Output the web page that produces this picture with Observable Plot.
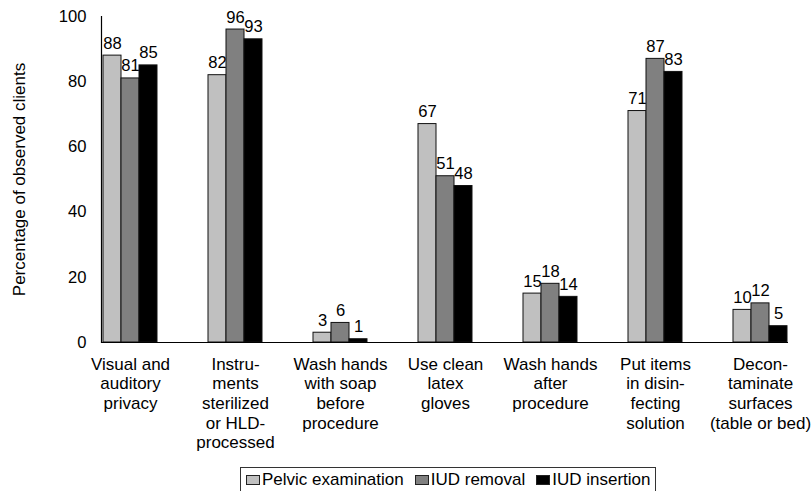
<!DOCTYPE html>
<html>
<head>
<meta charset="utf-8">
<script src="https://cdn.jsdelivr.net/npm/d3@7"></script>
<script src="https://cdn.jsdelivr.net/npm/@observablehq/plot@0.6"></script>
<style>
  html, body { margin: 0; padding: 0; background: #fff; }
  body { width: 812px; height: 491px; overflow: hidden; font-family: "Liberation Sans", Arial, sans-serif; }
  #legend { position: relative; margin-top: 7px; margin-left: 240px; width: 416px; height: 26px;
            border: 1px solid #333; box-sizing: border-box; display: flex; align-items: center;
            padding-left: 5px; font-size: 17px; color: #000; white-space: nowrap; }
  .item { display: flex; align-items: center; margin-right: 11px; }
  .sw { width: 14px; height: 10px; border: 1px solid #222; box-sizing: border-box; margin-right: 2px; }
</style>
</head>
<body>
<div id="chart"></div>
<div id="legend"></div>
<script>
const categories = [
  "Visual and auditory privacy",
  "Instruments sterilized or HLD-processed",
  "Wash hands with soap before procedure",
  "Use clean latex gloves",
  "Wash hands after procedure",
  "Put items in disinfecting solution",
  "Decontaminate surfaces (table or bed)"
];
const tickLabels = [
  "Visual and\nauditory\nprivacy",
  "Instru-\nments\nsterilized\nor HLD-\nprocessed",
  "Wash hands\nwith soap\nbefore\nprocedure",
  "Use clean\nlatex\ngloves",
  "Wash hands\nafter\nprocedure",
  "Put items\nin disin-\nfecting\nsolution",
  "Decon-\ntaminate\nsurfaces\n(table or bed)"
];
const seriesNames = ["Pelvic examination", "IUD removal", "IUD insertion"];
const pelvicExamination = [88, 82, 3, 67, 15, 71, 10];
const iudRemoval = [81, 96, 6, 51, 18, 87, 12];
const iudInsertion = [85, 93, 1, 48, 14, 83, 5];
const yTicks = [0, 20, 40, 60, 80, 100];
const yTitle = "Percentage of observed clients";
const colors = ["#c0c0c0", "#808080", "#000000"];

const seriesValues = [pelvicExamination, iudRemoval, iudInsertion];
const labelOf = new Map(categories.map((c, i) => [c, tickLabels[i]]));

const marks = [];
seriesValues.forEach((vals, k) => {
  const rows = categories.map((c, i) => ({category: c, series: seriesNames[k], value: vals[i]}));
  const dx = (k - 1) * 18;
  marks.push(Plot.barY(rows, {x: "category", y: "value", fill: "series", stroke: "#111", strokeWidth: 1, dx, insetLeft: 0, insetRight: 0}));
  marks.push(Plot.text(rows, {x: "category", y: "value", text: d => String(d.value), dx, dy: -7, lineAnchor: "bottom", fontSize: 16.6, fill: "#000"}));
});

const chart = Plot.plot({
  width: 812,
  height: 460,
  marginLeft: 101,
  marginRight: 24,
  marginTop: 16,
  marginBottom: 118,
  style: {fontFamily: '"Liberation Sans", Arial, sans-serif', fontSize: "17px", color: "#000", background: "#fff", overflow: "visible"},
  x: {type: "band", domain: categories, range: [75, 814], paddingInner: 0.8295, paddingOuter: 0.4148, axis: null},
  y: {domain: [0, 100], axis: null},
  color: {domain: seriesNames, range: colors},
  marks: [
    ...marks,
    Plot.ruleY([0], {stroke: "#000", strokeWidth: 1.2}),
    Plot.frame({anchor: "left", stroke: "#000", strokeWidth: 1.2}),
    Plot.axisY({ticks: yTicks, tickSize: 0, tickPadding: 15, fontSize: 16.6, label: null}),
    Plot.text(categories, {x: d => d, frameAnchor: "bottom", text: d => labelOf.get(d), lineAnchor: "top", dy: 13, lineHeight: 1.16, fontSize: 17, fill: "#000"}),
    Plot.text([yTitle], {frameAnchor: "left", text: d => d, rotate: -90, dx: -82, textAnchor: "middle", lineAnchor: "middle", fontSize: 17, fill: "#000"})
  ]
});
document.getElementById("chart").appendChild(chart);

const legend = document.getElementById("legend");
seriesNames.forEach((name, k) => {
  const item = document.createElement("div");
  item.className = "item";
  const sw = document.createElement("span");
  sw.className = "sw";
  sw.style.background = colors[k];
  const t = document.createElement("span");
  t.textContent = name;
  item.appendChild(sw);
  item.appendChild(t);
  legend.appendChild(item);
});
</script>
</body>
</html>
